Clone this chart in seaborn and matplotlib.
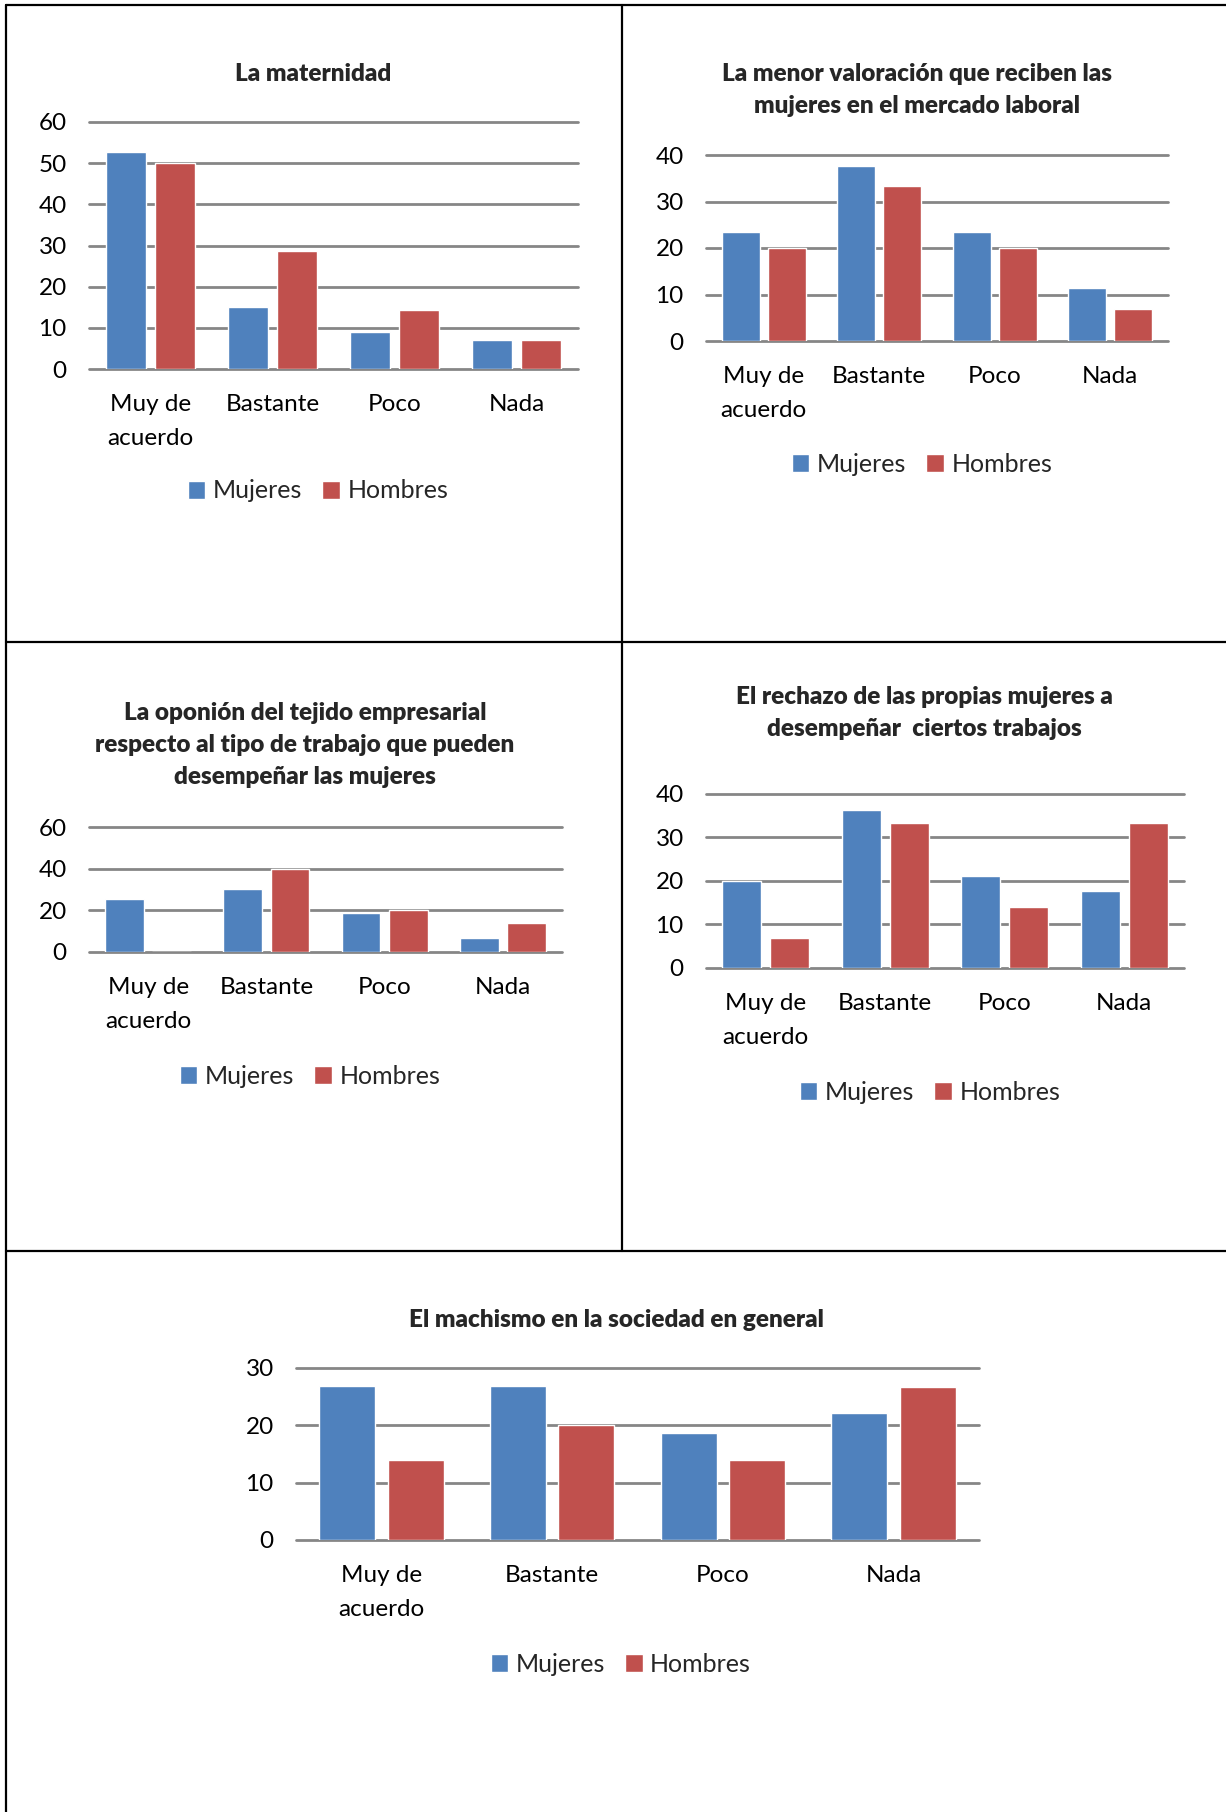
import pandas as pd
import matplotlib.pyplot as plt
import seaborn as sns
from matplotlib.lines import Line2D

# Datos (porcentajes)
categorias = ['Muy de\nacuerdo', 'Bastante', 'Poco', 'Nada']
series = ['Mujeres', 'Hombres']

maternidad_m = [52.8, 15.0, 9.0, 7.0]
maternidad_h = [50.0, 28.6, 14.3, 7.1]
valoracion_m = [23.4, 37.6, 23.4, 11.5]
valoracion_h = [20.0, 33.3, 20.0, 6.9]
tejido_m = [25.5, 30.4, 18.6, 6.7]
tejido_h = [0.0, 40.0, 20.0, 14.0]
rechazo_m = [20.0, 36.3, 21.1, 17.8]
rechazo_h = [7.0, 33.3, 14.1, 33.3]
machismo_m = [26.9, 26.9, 18.7, 22.2]
machismo_h = [14.0, 20.0, 14.0, 26.6]

titulos = [
    'La maternidad',
    'La menor valoración que reciben las\nmujeres en el mercado laboral',
    'La oponión del tejido empresarial\nrespecto al tipo de trabajo que pueden\ndesempeñar las mujeres',
    'El rechazo de las propias mujeres a\ndesempeñar  ciertos trabajos',
    'El machismo en la sociedad en general',
]
y_max = [60, 40, 60, 40, 30]
y_paso = [10, 10, 20, 10, 10]

datos = [(maternidad_m, maternidad_h), (valoracion_m, valoracion_h),
         (tejido_m, tejido_h), (rechazo_m, rechazo_h), (machismo_m, machismo_h)]

# Posiciones en pixeles: (izq, arriba, der, abajo), centro titulo, centro leyenda
W, H = 1226, 1812
ejes_px = [(89, 122, 578, 369), (706, 155, 1168, 341), (89, 827, 562, 952),
           (706, 794, 1184, 968), (296, 1368, 979, 1540)]
titulo_px = [(313, 74), (917, 90), (305, 745), (924, 713), (616, 1320)]
leyenda_px = [(318, 491), (922, 464), (310, 1076), (930, 1092), (621, 1664)]

sns.set_style('white')
plt.rcParams['font.family'] = ['Lato', 'DejaVu Sans']

colores = {'Mujeres': '#4F81BD', 'Hombres': '#C0504D'}

fig = plt.figure(figsize=(W / 100, H / 100), dpi=100)

for i, (muj, hom) in enumerate(datos):
    df = pd.DataFrame({
        'categoria': categorias * 2,
        'serie': ['Mujeres'] * 4 + ['Hombres'] * 4,
        'valor': muj + hom,
    })
    l, t, r, b = ejes_px[i]
    ax = fig.add_axes([l / W, 1 - b / H, (r - l) / W, (b - t) / H])
    sns.barplot(data=df, x='categoria', y='valor', hue='serie', order=categorias,
                hue_order=series, palette=colores, width=0.8, gap=0.18,
                saturation=1, ax=ax)
    ax.set_xlim(-0.5, 3.5)
    ax.set_ylim(0, y_max[i])
    ax.set_yticks(range(0, y_max[i] + 1, y_paso[i]))
    ax.set_xlabel('')
    ax.set_ylabel('')
    sns.despine(ax=ax, left=True, bottom=True)
    ax.set_axisbelow(True)
    ax.yaxis.grid(True, color='#868686', linewidth=2)
    for g in ax.get_ygridlines():
        g.set_clip_on(False)
    ax.tick_params(axis='both', length=0, labelsize=17.5, colors='black')
    ax.tick_params(axis='y', pad=16)
    ax.tick_params(axis='x', pad=18)
    for lab in ax.get_xticklabels():
        lab.set_linespacing(1.75)

    handles, labels = ax.get_legend_handles_labels()
    ax.get_legend().remove()
    lx, ly = leyenda_px[i]
    ax.legend(handles, labels, loc='center', bbox_to_anchor=(lx / W, 1 - ly / H),
              bbox_transform=fig.transFigure, ncol=2, frameon=False, fontsize=18,
              handlelength=0.7, handleheight=0.7, handletextpad=0.3,
              columnspacing=0.8)

    tx, ty = titulo_px[i]
    fig.text(tx / W, 1 - ty / H, titulos[i], ha='center', va='center',
             fontsize=17.5, fontweight='heavy', linespacing=1.55)

# Bordes de la tabla
def linea(x0, y0, x1, y1):
    fig.add_artist(Line2D([x0 / W, x1 / W], [1 - y0 / H, 1 - y1 / H],
                          color='black', linewidth=1.6, transform=fig.transFigure))

linea(6, 5, W, 5)
linea(6, 5, 6, H)
linea(622, 5, 622, 1251)
linea(6, 642, W, 642)
linea(6, 1251, W, 1251)

plt.savefig('out.png', dpi=100)
